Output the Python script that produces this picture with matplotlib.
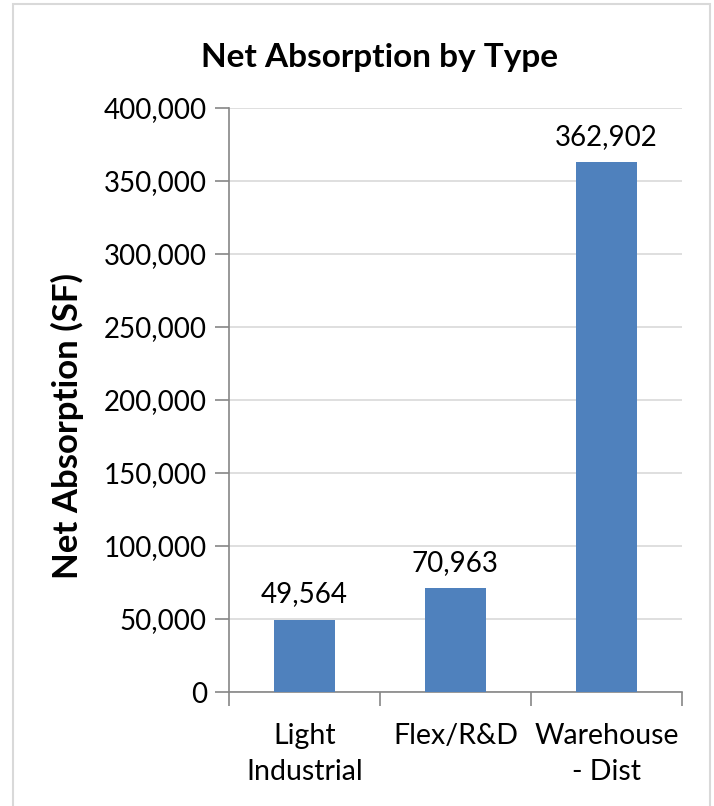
import matplotlib

matplotlib.use("Agg")
import matplotlib.pyplot as plt
from matplotlib.patches import Rectangle
from matplotlib.ticker import FuncFormatter, MultipleLocator
import numpy as np

categories = ["Light\nIndustrial", "Flex/R&D", "Warehouse\n- Dist"]
values = [49564, 70963, 362902]

plt.rcParams["font.family"] = ["Lato", "DejaVu Sans"]

fig = plt.figure(figsize=(7.14, 8.06), dpi=100)
ax = fig.add_axes([0.3207, 0.1414, 0.955 - 0.3207, 0.866 - 0.1414])

# outer chart border
fig.patches.append(Rectangle((13 / 714, -0.05), (710 - 13) / 714, 1.05 - 4 / 806,
                             transform=fig.transFigure, fill=False,
                             edgecolor="#D9D9D9", linewidth=1.5))

x = np.arange(len(categories))
bars = ax.bar(x, values, width=0.4, color="#4F81BD", zorder=3)

ax.set_xlim(-0.5, len(categories) - 0.5)
ax.set_ylim(0, 400000)
ax.yaxis.set_major_locator(MultipleLocator(50000))
ax.yaxis.set_major_formatter(FuncFormatter(lambda v, p: f"{int(v):,}"))
ax.grid(axis="y", color="#D9D9D9", linewidth=1.2, zorder=0)

ax.set_xticks(x)
ax.set_xticklabels(categories, fontsize=20.5, linespacing=1.5)
ax.set_xticks(np.arange(len(categories) + 1) - 0.5, minor=True)
ax.tick_params(axis="x", which="major", length=0, pad=22)
ax.tick_params(axis="x", which="minor", length=10, width=1.2, color="#868686", direction="out")
ax.tick_params(axis="y", length=10, width=1.2, color="#868686", direction="out", labelsize=20, pad=6)

for s in ("top", "right"):
    ax.spines[s].set_visible(False)
for s in ("left", "bottom"):
    ax.spines[s].set_color("#868686")
    ax.spines[s].set_linewidth(1.2)

for b, v in zip(bars, values):
    ax.annotate(f"{v:,}", (b.get_x() + b.get_width() / 2, v), xytext=(0, 9),
                textcoords="offset points", ha="center", va="bottom", fontsize=20)

fig.text(67 / 714, 1 - 426 / 806, "Net Absorption (SF)", rotation=90, ha="center", va="center",
         fontsize=25, fontweight="bold")
fig.text(0.531, 1 - 57 / 806, "Net Absorption by Type", ha="center", va="center",
         fontsize=24, fontweight="bold")

fig.savefig("out.png", dpi=100, facecolor="white")
